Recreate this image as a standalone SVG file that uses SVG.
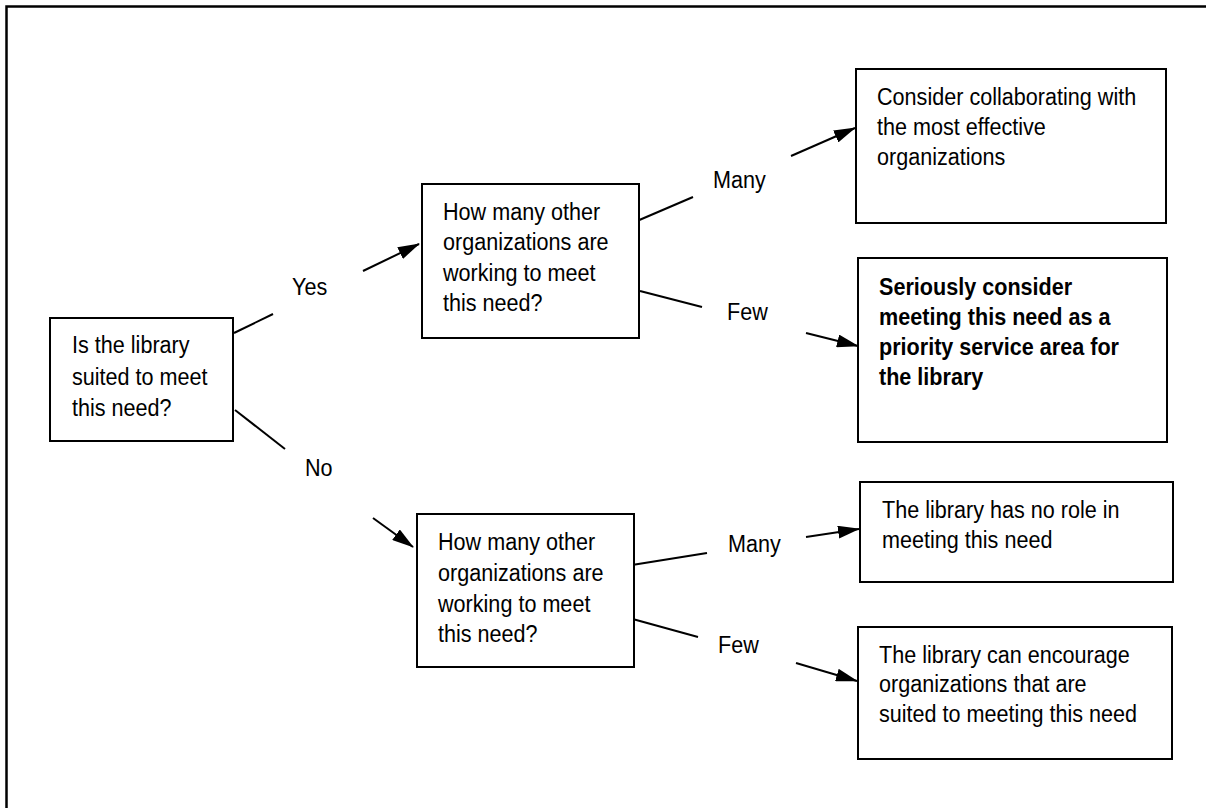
<svg xmlns="http://www.w3.org/2000/svg" width="1206" height="808" viewBox="0 0 1206 808">
<style>
.box{fill:#fff;stroke:#000;stroke-width:2}
.t{font-family:"Liberation Sans",Arial,sans-serif;font-size:21.6px;fill:#000}
.b{font-weight:bold}
.ln{stroke:#000;stroke-width:2;fill:none}
</style>
<defs>
<marker id="arr" viewBox="0 0 22 13" refX="21" refY="6.5" markerWidth="22" markerHeight="13" markerUnits="userSpaceOnUse" orient="auto">
<path d="M0,0 L22,6.5 L0,13 z" fill="#000"/>
</marker>
</defs>
<rect width="1206" height="808" fill="#fff"/>
<path d="M6.5,808 V6.5 H1206" stroke="#000" stroke-width="2.5" fill="none"/>
<g id="connectors">
<line class="ln" x1="234" y1="333" x2="273" y2="314"/>
<line class="ln" x1="363" y1="271" x2="419" y2="244" marker-end="url(#arr)"/>
<line class="ln" x1="235" y1="410" x2="285" y2="449"/>
<line class="ln" x1="373" y1="518" x2="413" y2="547" marker-end="url(#arr)"/>
<line class="ln" x1="637" y1="221" x2="693" y2="197"/>
<line class="ln" x1="791" y1="156" x2="855" y2="128" marker-end="url(#arr)"/>
<line class="ln" x1="640" y1="291" x2="702" y2="307"/>
<line class="ln" x1="806" y1="333" x2="858" y2="346" marker-end="url(#arr)"/>
<line class="ln" x1="632" y1="565" x2="707" y2="553"/>
<line class="ln" x1="806" y1="537" x2="859" y2="529" marker-end="url(#arr)"/>
<line class="ln" x1="629" y1="618" x2="698" y2="637"/>
<line class="ln" x1="796" y1="663" x2="857" y2="681" marker-end="url(#arr)"/>
<text class="t" x="292" y="0" transform="matrix(1,0,0,1.12,0,295)">Yes</text>
<text class="t" x="305" y="0" transform="matrix(1,0,0,1.12,0,476)">No</text>
<text class="t" x="713" y="0" transform="matrix(1,0,0,1.12,0,188)">Many</text>
<text class="t" x="727" y="0" transform="matrix(1,0,0,1.12,0,320)">Few</text>
<text class="t" x="728" y="0" transform="matrix(1,0,0,1.12,0,552)">Many</text>
<text class="t" x="718" y="0" transform="matrix(1,0,0,1.12,0,653)">Few</text>
</g>
<g id="n1">
<rect class="box" x="50" y="318" width="183" height="123"/>
<text class="t" x="72" y="0" transform="matrix(1,0,0,1.12,0,353)">Is the library</text>
<text class="t" x="72" y="0" transform="matrix(1,0,0,1.12,0,385)">suited to meet</text>
<text class="t" x="72" y="0" transform="matrix(1,0,0,1.12,0,416)">this need?</text>
</g>
<g id="n2">
<rect class="box" x="422" y="184" width="217" height="154"/>
<text class="t" x="443" y="0" transform="matrix(1,0,0,1.12,0,220)">How many other</text>
<text class="t" x="443" y="0" transform="matrix(1,0,0,1.12,0,250)">organizations are</text>
<text class="t" x="443" y="0" transform="matrix(1,0,0,1.12,0,281)">working to meet</text>
<text class="t" x="443" y="0" transform="matrix(1,0,0,1.12,0,311)">this need?</text>
</g>
<g id="n3">
<rect class="box" x="417" y="514" width="217" height="153"/>
<text class="t" x="438" y="0" transform="matrix(1,0,0,1.12,0,550)">How many other</text>
<text class="t" x="438" y="0" transform="matrix(1,0,0,1.12,0,581)">organizations are</text>
<text class="t" x="438" y="0" transform="matrix(1,0,0,1.12,0,612)">working to meet</text>
<text class="t" x="438" y="0" transform="matrix(1,0,0,1.12,0,642)">this need?</text>
</g>
<g id="n4">
<rect class="box" x="856" y="69" width="310" height="154"/>
<text class="t" x="877" y="0" transform="matrix(1,0,0,1.12,0,105)">Consider collaborating with</text>
<text class="t" x="877" y="0" transform="matrix(1,0,0,1.12,0,135)">the most effective</text>
<text class="t" x="877" y="0" transform="matrix(1,0,0,1.12,0,165)">organizations</text>
</g>
<g id="n5">
<rect class="box" x="858" y="258" width="309" height="184"/>
<text class="t b" x="879" y="0" transform="matrix(1,0,0,1.12,0,295)">Seriously consider</text>
<text class="t b" x="879" y="0" transform="matrix(1,0,0,1.12,0,325)">meeting this need as a</text>
<text class="t b" x="879" y="0" transform="matrix(1,0,0,1.12,0,355)">priority service area for</text>
<text class="t b" x="879" y="0" transform="matrix(1,0,0,1.12,0,385)">the library</text>
</g>
<g id="n6">
<rect class="box" x="860" y="482" width="313" height="100"/>
<text class="t" x="882" y="0" transform="matrix(1,0,0,1.12,0,518)">The library has no role in</text>
<text class="t" x="882" y="0" transform="matrix(1,0,0,1.12,0,548)">meeting this need</text>
</g>
<g id="n7">
<rect class="box" x="858" y="627" width="314" height="132"/>
<text class="t" x="879" y="0" transform="matrix(1,0,0,1.12,0,663)">The library can encourage</text>
<text class="t" x="879" y="0" transform="matrix(1,0,0,1.12,0,692)">organizations that are</text>
<text class="t" x="879" y="0" transform="matrix(1,0,0,1.12,0,722)">suited to meeting this need</text>
</g>
</svg>
